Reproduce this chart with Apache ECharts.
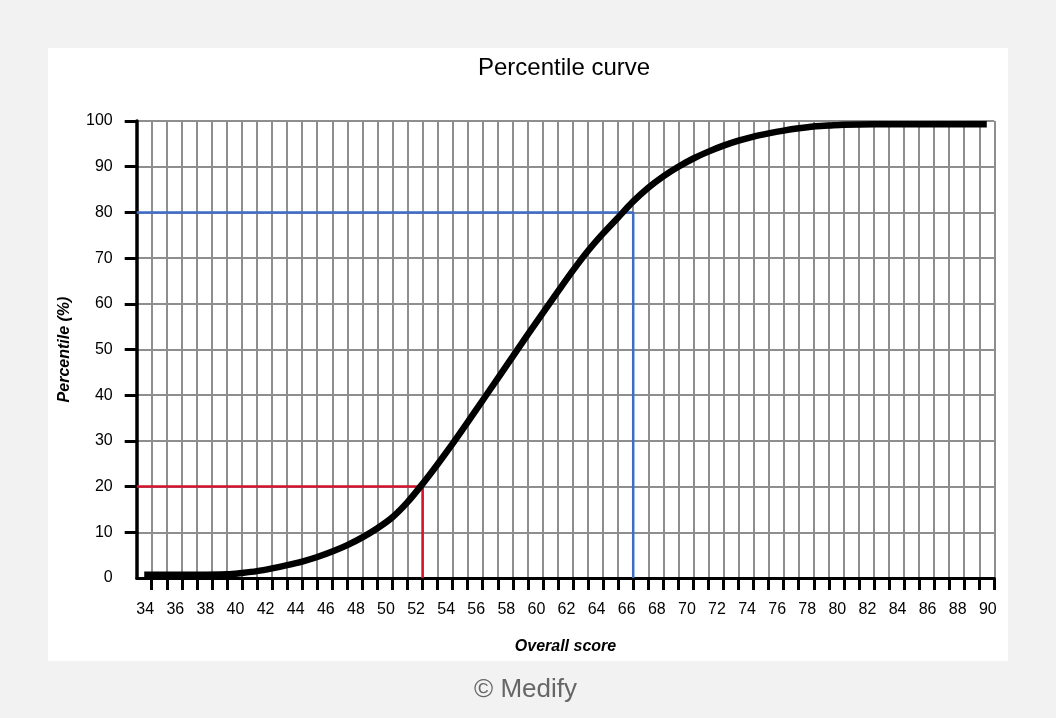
<!DOCTYPE html>
<html>
<head>
<meta charset="utf-8">
<title>Percentile curve</title>
<script src="https://cdn.jsdelivr.net/npm/echarts@6/dist/echarts.min.js"></script>
<style>
    html, body { margin: 0; padding: 0; background: #f2f2f2; }
    #panel { position: absolute; left: 48px; top: 48px; width: 960px; height: 613px; background: #fff; }
    #chart { position: absolute; left: 0; top: 0; width: 1056px; height: 718px; }
</style>
</head>
<body>
<div id="panel"></div>
<div id="chart"></div>
<script>
// curve (x in score ticks, y in %)
const SCORES = [
    33.5, 35, 37, 39, 40, 41, 42, 43, 44, 45, 46, 47, 48, 49, 50, 51, 52, 53, 54, 55,
    56, 57, 58, 59, 60, 61, 62, 63, 64, 65, 66, 67, 68, 69, 70, 71, 72, 73, 74, 75,
    76, 77, 78, 79, 80, 82, 85, 89.5
]
const PERCENTILES = [
    0.7, 0.7, 0.7, 0.8, 1.1, 1.5, 2.1, 2.8, 3.6, 4.6, 5.8, 7.2, 8.9, 10.9, 13.3, 16.6, 20.6, 24.9, 29.4, 34.1,
    38.9, 43.7, 48.5, 53.3, 58.0, 62.7, 67.3, 71.6, 75.4, 78.9, 82.4, 85.4, 87.9, 90.0, 91.8, 93.3, 94.6, 95.7, 96.6, 97.3,
    97.9, 98.4, 98.8, 99.0, 99.2, 99.3, 99.3, 99.3
]

// guide lines
const LOW_MARK = [[33, 20], [52, 20], [52, 0]]
const HIGH_MARK = [[33, 80], [66, 80], [66, 0]]

const X_TICKS = [
    34, 35, 36, 37, 38, 39, 40, 41, 42, 43, 44, 45, 46, 47, 48, 49, 50, 51, 52, 53,
    54, 55, 56, 57, 58, 59, 60, 61, 62, 63, 64, 65, 66, 67, 68, 69, 70, 71, 72, 73,
    74, 75, 76, 77, 78, 79, 80, 81, 82, 83, 84, 85, 86, 87, 88, 89, 90
]
const X_LABELS = [
    34, 36, 38, 40, 42, 44, 46, 48, 50, 52, 54, 56, 58, 60, 62, 64, 66, 68, 70, 72,
    74, 76, 78, 80, 82, 84, 86, 88, 90
]
const Y_TICKS = [10, 20, 30, 40, 50, 60, 70, 80, 90, 100]

const FONT = '"Liberation Sans", Arial, sans-serif'

function pairs(xs, ys) {
    let out = []
    for (let i = 0; i < xs.length; i++) {
        out.push([xs[i], ys[i]])
    }
    return out
}

let option = {
    animation: false,
    backgroundColor: 'transparent',
    title: [
        {
            text: 'Percentile curve',
            left: 478,
            top: 56,
            padding: 0,
            textStyle: { fontFamily: FONT, fontSize: 24, fontWeight: 'normal', color: '#000' }
        },
        {
            text: '© Medify',
            left: 474,
            top: 677,
            padding: 0,
            textStyle: { fontFamily: FONT, fontSize: 26, fontWeight: 'normal', color: '#666' }
        }
    ],
    grid: {
        left: 136.7,
        right: 61.7,
        top: 121,
        bottom: 140,
        containLabel: false,
        outerBoundsMode: 'none'
    },
    xAxis: {
        type: 'value',
        min: 33,
        max: 90,
        interval: 1,
        name: 'Overall score',
        nameLocation: 'middle',
        nameGap: 61,
        nameTextStyle: { fontFamily: FONT, fontSize: 16, fontWeight: 'bold', fontStyle: 'italic', color: '#000' },
        axisLine: { onZero: false, lineStyle: { color: '#000', width: 3 } },
        axisTick: { customValues: X_TICKS, length: 12, lineStyle: { color: '#000', width: 3 } },
        axisLabel: {
            customValues: X_LABELS,
            margin: 24,
            padding: [0, 13, 0, 0],
            fontFamily: FONT,
            fontSize: 16,
            color: '#000'
        },
        splitLine: { show: true, lineStyle: { color: '#8e8e8e', width: 2 } }
    },
    yAxis: {
        type: 'value',
        min: 0,
        max: 100,
        interval: 10,
        name: 'Percentile (%)',
        nameLocation: 'middle',
        nameGap: 64,
        nameTextStyle: { fontFamily: FONT, fontSize: 16, fontWeight: 'bold', fontStyle: 'italic', color: '#000' },
        axisLine: { show: true, lineStyle: { color: '#000', width: 3.5 } },
        axisTick: { show: true, customValues: Y_TICKS, length: 12, lineStyle: { color: '#000', width: 3 } },
        axisLabel: { margin: 24, fontFamily: FONT, fontSize: 16, color: '#000' },
        splitLine: { show: true, lineStyle: { color: '#8e8e8e', width: 2 } }
    },
    series: [
        {
            name: 'low',
            type: 'line',
            data: LOW_MARK,
            showSymbol: false,
            z: 3,
            lineStyle: { color: '#d3142c', width: 2.5 }
        },
        {
            name: 'high',
            type: 'line',
            data: HIGH_MARK,
            showSymbol: false,
            z: 3,
            lineStyle: { color: '#3e6dc6', width: 2.5 }
        },
        {
            name: 'percentile',
            type: 'line',
            data: pairs(SCORES, PERCENTILES),
            showSymbol: false,
            smooth: 0.3,
            z: 5,
            lineStyle: { color: '#000', width: 6.5 }
        }
    ]
};

let chart = echarts.init(document.getElementById('chart'));
chart.setOption(option);
</script>
</body>
</html>
